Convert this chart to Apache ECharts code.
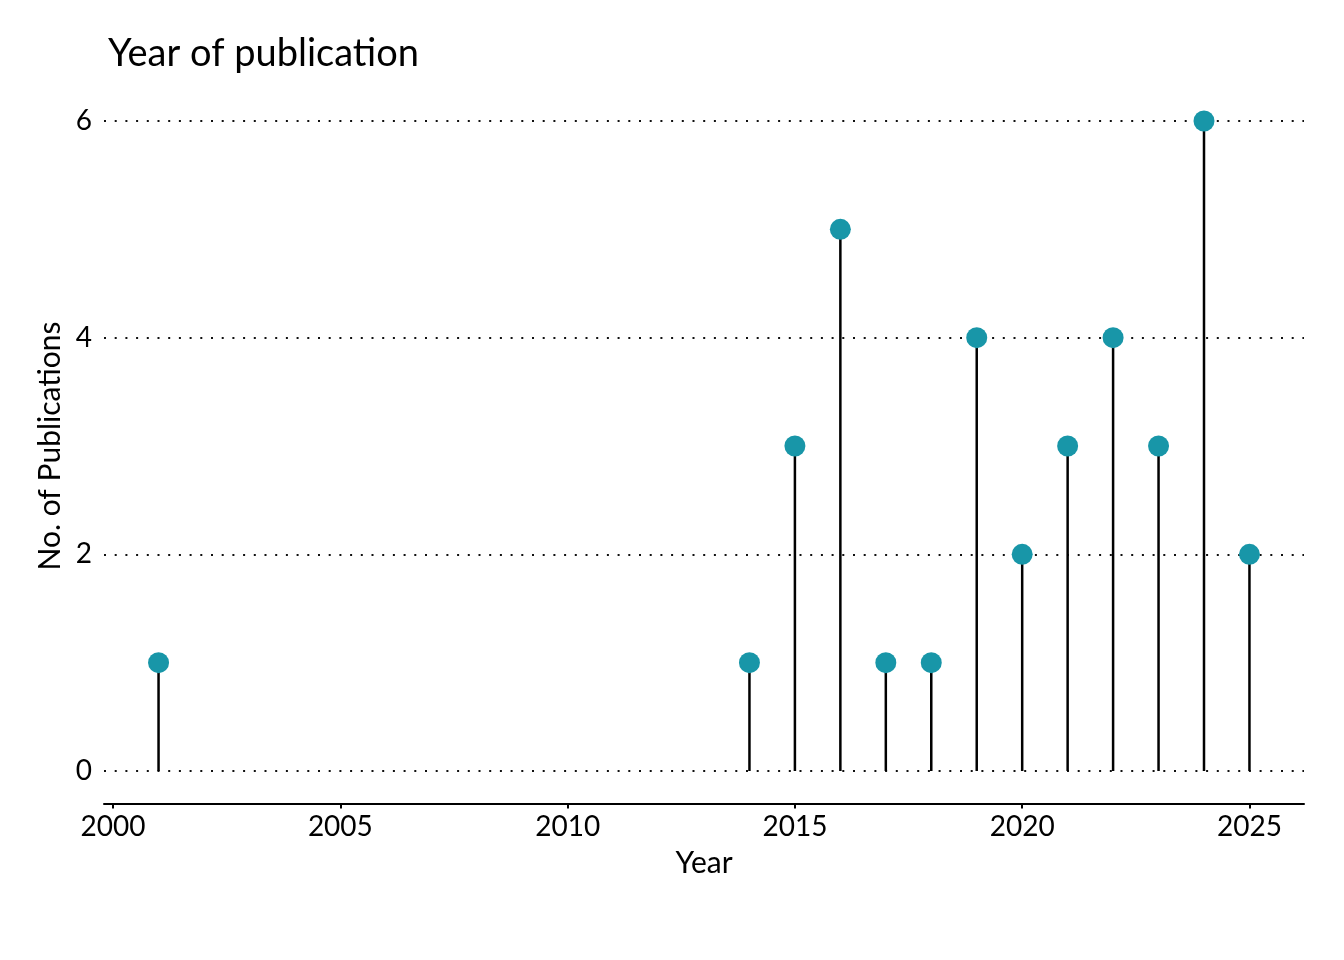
<!DOCTYPE html>
<html>
<head>
<meta charset="utf-8">
<script src="https://cdn.jsdelivr.net/npm/echarts@6/dist/echarts.min.js"></script>
<style>
html,body{margin:0;padding:0;background:#fff;}
#chart{width:1344px;height:960px;}
</style>
</head>
<body>
<div id="chart"></div>
<script>
const years = [2001, 2014, 2015, 2016, 2017, 2018, 2019, 2020, 2021, 2022, 2023, 2024, 2025];
const counts = [1, 1, 3, 5, 1, 1, 4, 2, 3, 4, 3, 6, 2];
const xTicks = [2000, 2005, 2010, 2015, 2020, 2025];
const yTicks = [0, 2, 4, 6];
const titleText = 'Year of publication';
const xName = 'Year';
const yName = 'No. of Publications';

const FONT = 'Lato';
const pts = years.map((y, i) => [y, counts[i]]);

const chart = echarts.init(document.getElementById('chart'), null, {renderer: 'canvas'});
chart.setOption({
  backgroundColor: '#ffffff',
  animation: false,
  title: {
    text: titleText,
    left: 103, top: 30,
    textStyle: {fontFamily: FONT, fontSize: 38, fontWeight: 'normal', color: '#000'}
  },
  grid: {left: 104, right: 40, top: 88.5, bottom: 156.5, containLabel: false},
  xAxis: {
    type: 'value',
    min: 1999.8, max: 2026.2,
    name: xName, nameLocation: 'middle', nameGap: 45,
    nameTextStyle: {fontFamily: FONT, fontSize: 30, color: '#000'},
    axisLine: {show: true, onZero: false, lineStyle: {color: '#000', width: 2}},
    axisTick: {show: true, customValues: xTicks, length: 5, lineStyle: {color: '#000', width: 2}},
    axisLabel: {customValues: xTicks, fontFamily: FONT, fontSize: 28, color: '#000', margin: 9,
      formatter: v => String(v)},
    splitLine: {show: false}
  },
  yAxis: {
    type: 'value',
    min: -0.3, max: 6.3,
    name: yName, nameLocation: 'middle', nameGap: 39,
    nameTextStyle: {fontFamily: FONT, fontSize: 30, color: '#000'},
    axisLine: {show: false},
    axisTick: {show: false, customValues: yTicks},
    axisLabel: {customValues: yTicks, fontFamily: FONT, fontSize: 28, color: '#000', margin: 12},
    splitLine: {show: true, lineStyle: {color: '#111', width: 2, type: [2, 8.7]}}
  },
  series: [
    {
      type: 'bar',
      data: pts,
      barWidth: 2.5,
      itemStyle: {color: '#000'},
      z: 2,
      silent: true
    },
    {
      type: 'scatter',
      data: pts,
      symbol: 'circle',
      symbolSize: 21,
      itemStyle: {color: '#1896a8', opacity: 1},
      z: 3,
      silent: true
    }
  ]
});
</script>
</body>
</html>
